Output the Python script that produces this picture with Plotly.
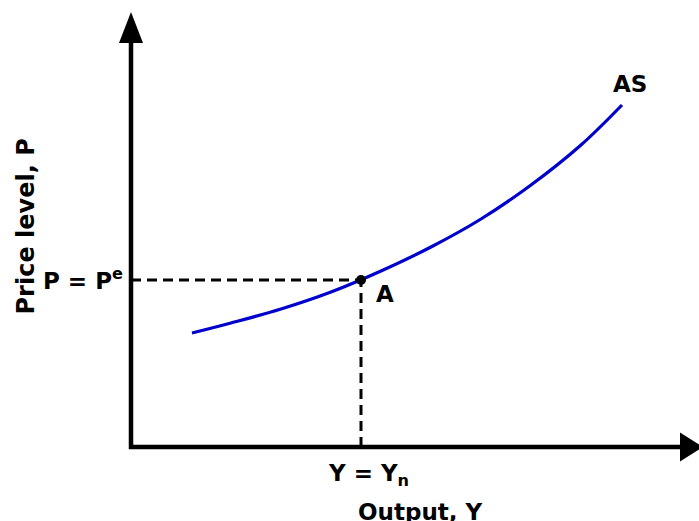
import plotly.graph_objects as go

# AS curve: output Y vs price level P (arbitrary units)
as_output = [6.1, 10.0, 15.0, 20.0, 25.0, 30.0, 35.0, 40.0, 45.0, 49.1]
as_price = [11.4, 12.4, 13.8, 15.5, 17.6, 20.0, 22.8, 26.2, 30.2, 34.2]

# Point A: natural output and expected price level
Y_N = 23.0
P_E = 16.7

# Axis extents (data units)
X_AXIS_END = 55.0
Y_AXIS_END = 40.5

FONT = "DejaVu Sans"
FS = 23
BLUE = "#0000CD"

fig = go.Figure()

fig.add_trace(go.Scatter(
    x=as_output, y=as_price, mode="lines",
    line=dict(color=BLUE, width=3.2, shape="spline"),
    hoverinfo="skip", showlegend=False))

# dashed guides
fig.add_trace(go.Scatter(
    x=[0, Y_N], y=[P_E, P_E], mode="lines",
    line=dict(color="black", width=3, dash="10px,6px"),
    showlegend=False, hoverinfo="skip"))
fig.add_trace(go.Scatter(
    x=[Y_N, Y_N], y=[0, P_E], mode="lines",
    line=dict(color="black", width=3, dash="10px,6px"),
    showlegend=False, hoverinfo="skip"))

fig.add_trace(go.Scatter(
    x=[Y_N], y=[P_E], mode="markers",
    marker=dict(color="black", size=10),
    showlegend=False, hoverinfo="skip"))

shapes = [
    dict(type="line", xref="x", yref="y", x0=0, y0=-0.2, x1=0, y1=Y_AXIS_END,
         line=dict(color="black", width=4.5)),
    dict(type="line", xref="x", yref="y", x0=-0.2, y0=0, x1=X_AXIS_END, y1=0,
         line=dict(color="black", width=4.5)),
    dict(type="path", xref="x", yref="y",
         path=f"M -1.2 {Y_AXIS_END-0.1} L 1.2 {Y_AXIS_END-0.1} L 0 {Y_AXIS_END+3.0} Z",
         fillcolor="black", line=dict(color="black", width=0)),
    dict(type="path", xref="x", yref="y",
         path=f"M {X_AXIS_END-0.1} -1.45 L {X_AXIS_END-0.1} 1.45 L {X_AXIS_END+2.2} 0 Z",
         fillcolor="black", line=dict(color="black", width=0)),
]

font = dict(family=FONT, size=FS, color="black")
ann = [
    dict(x=-0.6, y=P_E + 0.1, text="<b>P = P<sup>e</sup></b>", xanchor="right", yanchor="middle"),
    dict(x=Y_N + 0.7, y=-2.8, text="<b>Y = Y<sub>n</sub></b>", xanchor="center", yanchor="middle"),
    dict(x=28.9, y=-6.5, text="<b>Output, Y</b>", xanchor="center", yanchor="middle"),
    dict(x=-10.6, y=22.05, text="<b>Price level, P</b>", xanchor="center", yanchor="middle", textangle=-90),
    dict(x=49.9, y=36.35, text="<b>AS</b>", xanchor="center", yanchor="middle"),
    dict(x=Y_N + 2.4, y=P_E - 1.35, text="<b>A</b>", xanchor="center", yanchor="middle"),
]
for a in ann:
    a.update(xref="x", yref="y", showarrow=False, font=dict(font))
ann[3]["font"] = dict(family=FONT, size=24, color="black")

fig.update_layout(
    width=699, height=521,
    margin=dict(l=0, r=0, t=0, b=0),
    paper_bgcolor="white", plot_bgcolor="white",
    xaxis=dict(range=[-13.1, 56.8], visible=False, fixedrange=True),
    yaxis=dict(range=[-7.4, 44.7], visible=False, fixedrange=True),
    shapes=shapes, annotations=ann, showlegend=False,
)

fig.write_html(
    "out.html",
    config={"displayModeBar": False},
    post_script="document.body.style.margin='0';document.body.style.overflow='hidden';",
)
